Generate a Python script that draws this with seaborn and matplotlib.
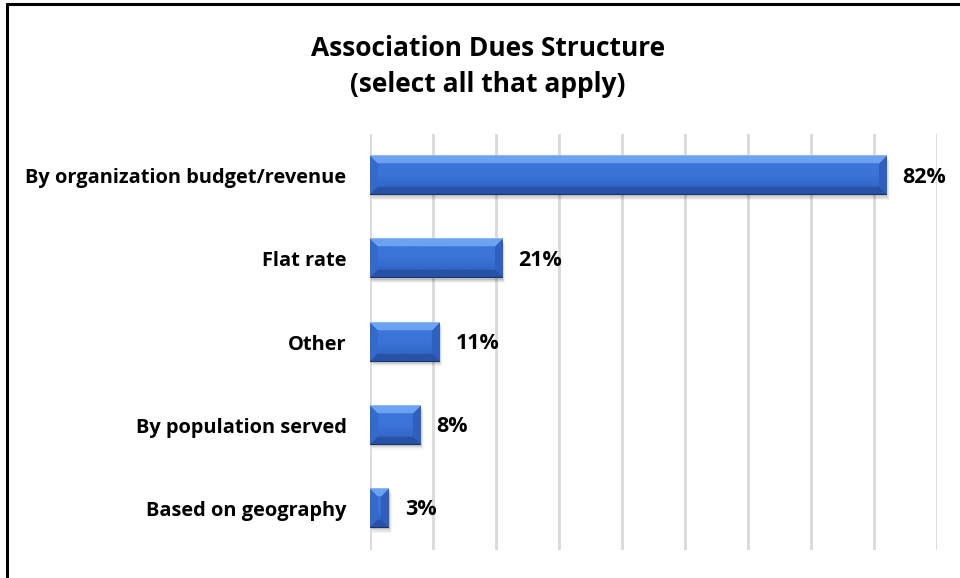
import numpy as np
import pandas as pd
import matplotlib
matplotlib.use("Agg")
import matplotlib.pyplot as plt
from matplotlib.patches import Rectangle
import seaborn as sns

categories = [
    "By organization budget/revenue",
    "Flat rate",
    "Other",
    "By population served",
    "Based on geography",
]
percent = [82, 21, 11, 8, 3]
title_lines = ["Association Dues Structure", "(select all that apply)"]

df = pd.DataFrame({"category": categories, "percent": percent})

sns.set_theme(style="white")
plt.rcParams["font.family"] = ["Open Sans", "DejaVu Sans"]

W, H, DPI = 960, 578, 100
fig = plt.figure(figsize=(W / DPI, H / DPI), dpi=DPI)
ax = fig.add_axes([370 / W, 1 - 550 / H, 567 / W, 416 / H])

sns.barplot(data=df, x="percent", y="category", orient="h", color="#3366cc",
            width=0.47, ax=ax, zorder=3)

ax.set_xlim(0, 90)
ax.set_xticks(np.arange(0, 91, 10))
ax.set_xticklabels([])
ax.tick_params(axis="x", length=0)
ax.tick_params(axis="y", length=0, pad=17)
ax.set_xlabel("")
ax.set_ylabel("")
for lab in ax.get_yticklabels():
    lab.set_fontweight("bold")
    lab.set_fontsize(14.4)
    lab.set_color("black")
ax.grid(axis="x", color="#d9d9d9", linewidth=2, zorder=0)
ax.grid(axis="y", visible=False)
for s in ax.spines.values():
    s.set_visible(False)


def bevel_image(wpx, hpx, b=8):
    """Shaded bar face with four bevelled edges."""
    wpx, hpx = max(int(round(wpx)), 2), max(int(round(hpx)), 2)
    yy, xx = np.mgrid[0:hpx, 0:wpx] + 0.5
    d_top, d_bot = yy, hpx - yy
    d_left, d_right = xx, wpx - xx
    bb = min(b, wpx / 2, hpx / 2)
    t = yy / hpx
    c_top = np.array([0x6c, 0xa2, 0xf0]) / 255
    c_mid = np.array([0x3b, 0x73, 0xd6]) / 255
    c_low = np.array([0x2c, 0x5e, 0xc0]) / 255
    img = np.empty((hpx, wpx, 3))
    for k in range(3):
        img[..., k] = np.interp(t, [0, 0.5, 1], [c_mid[k] * 1.04, c_mid[k], c_low[k]])
    dmin = np.minimum.reduce([d_top, d_bot, d_left, d_right])
    edge = dmin < bb
    which = np.argmin(np.stack([d_top, d_bot, d_left, d_right]), axis=0)
    cols = [
        c_top,
        np.array([0x27, 0x52, 0xa6]) / 255,
        np.array([0x34, 0x6a, 0xcc]) / 255,
        np.array([0x2f, 0x60, 0xbe]) / 255,
    ]
    for idx, c in enumerate(cols):
        m = edge & (which == idx)
        img[m] = c
    # thin highlight line at the top and dark rim at the bottom
    img[0, :] = np.array([0x8a, 0xb8, 0xf5]) / 255
    img[-1, :] = np.array([0x18, 0x35, 0x70]) / 255
    return img


fig.canvas.draw()
x_per_px = 90 / 567
y_per_px = 5 / 416
for patch, v in zip(ax.patches, percent):
    x0, y0 = patch.get_x(), patch.get_y()
    w, h = patch.get_width(), patch.get_height()
    patch.set_alpha(0)
    # soft shadow under the bar
    for k, a in enumerate([0.10, 0.08, 0.06, 0.04]):
        off = (k + 1) * 1.2
        ax.add_patch(Rectangle((x0 + off * x_per_px * 0.6, y0 + off * y_per_px),
                               w, h, facecolor="black", alpha=a,
                               edgecolor="none", zorder=2))
    img = bevel_image(w / x_per_px, h / y_per_px)
    ax.imshow(img, extent=(x0, x0 + w, y0 + h, y0), aspect="auto",
              interpolation="bilinear", zorder=4)
    ax.text(v + 16 * x_per_px, y0 + h / 2 + 1.5 * y_per_px, f"{v}%",
            ha="left", va="center",
            fontsize=15.5, fontweight="bold", color="black", zorder=5)

ax.set_xlim(0, 90)
ax.set_ylim(4.5, -0.5)

fig.text(488 / W, 1 - 49 / H, title_lines[0], ha="center", va="center",
         fontsize=19, fontweight="bold", color="black")
fig.text(488 / W, 1 - 85 / H, title_lines[1], ha="center", va="center",
         fontsize=19, fontweight="bold", color="black")

# chart frame (only the left and top edges fall inside the image)
fig.add_artist(plt.Line2D([6.5 / W, 6.5 / W], [-0.05, 1 - 3.5 / H],
                          transform=fig.transFigure, color="black", lw=2.2))
fig.add_artist(plt.Line2D([6.5 / W, 1.05], [1 - 3.5 / H, 1 - 3.5 / H],
                          transform=fig.transFigure, color="black", lw=2.2))

fig.savefig("out.png", dpi=DPI, facecolor="white")
